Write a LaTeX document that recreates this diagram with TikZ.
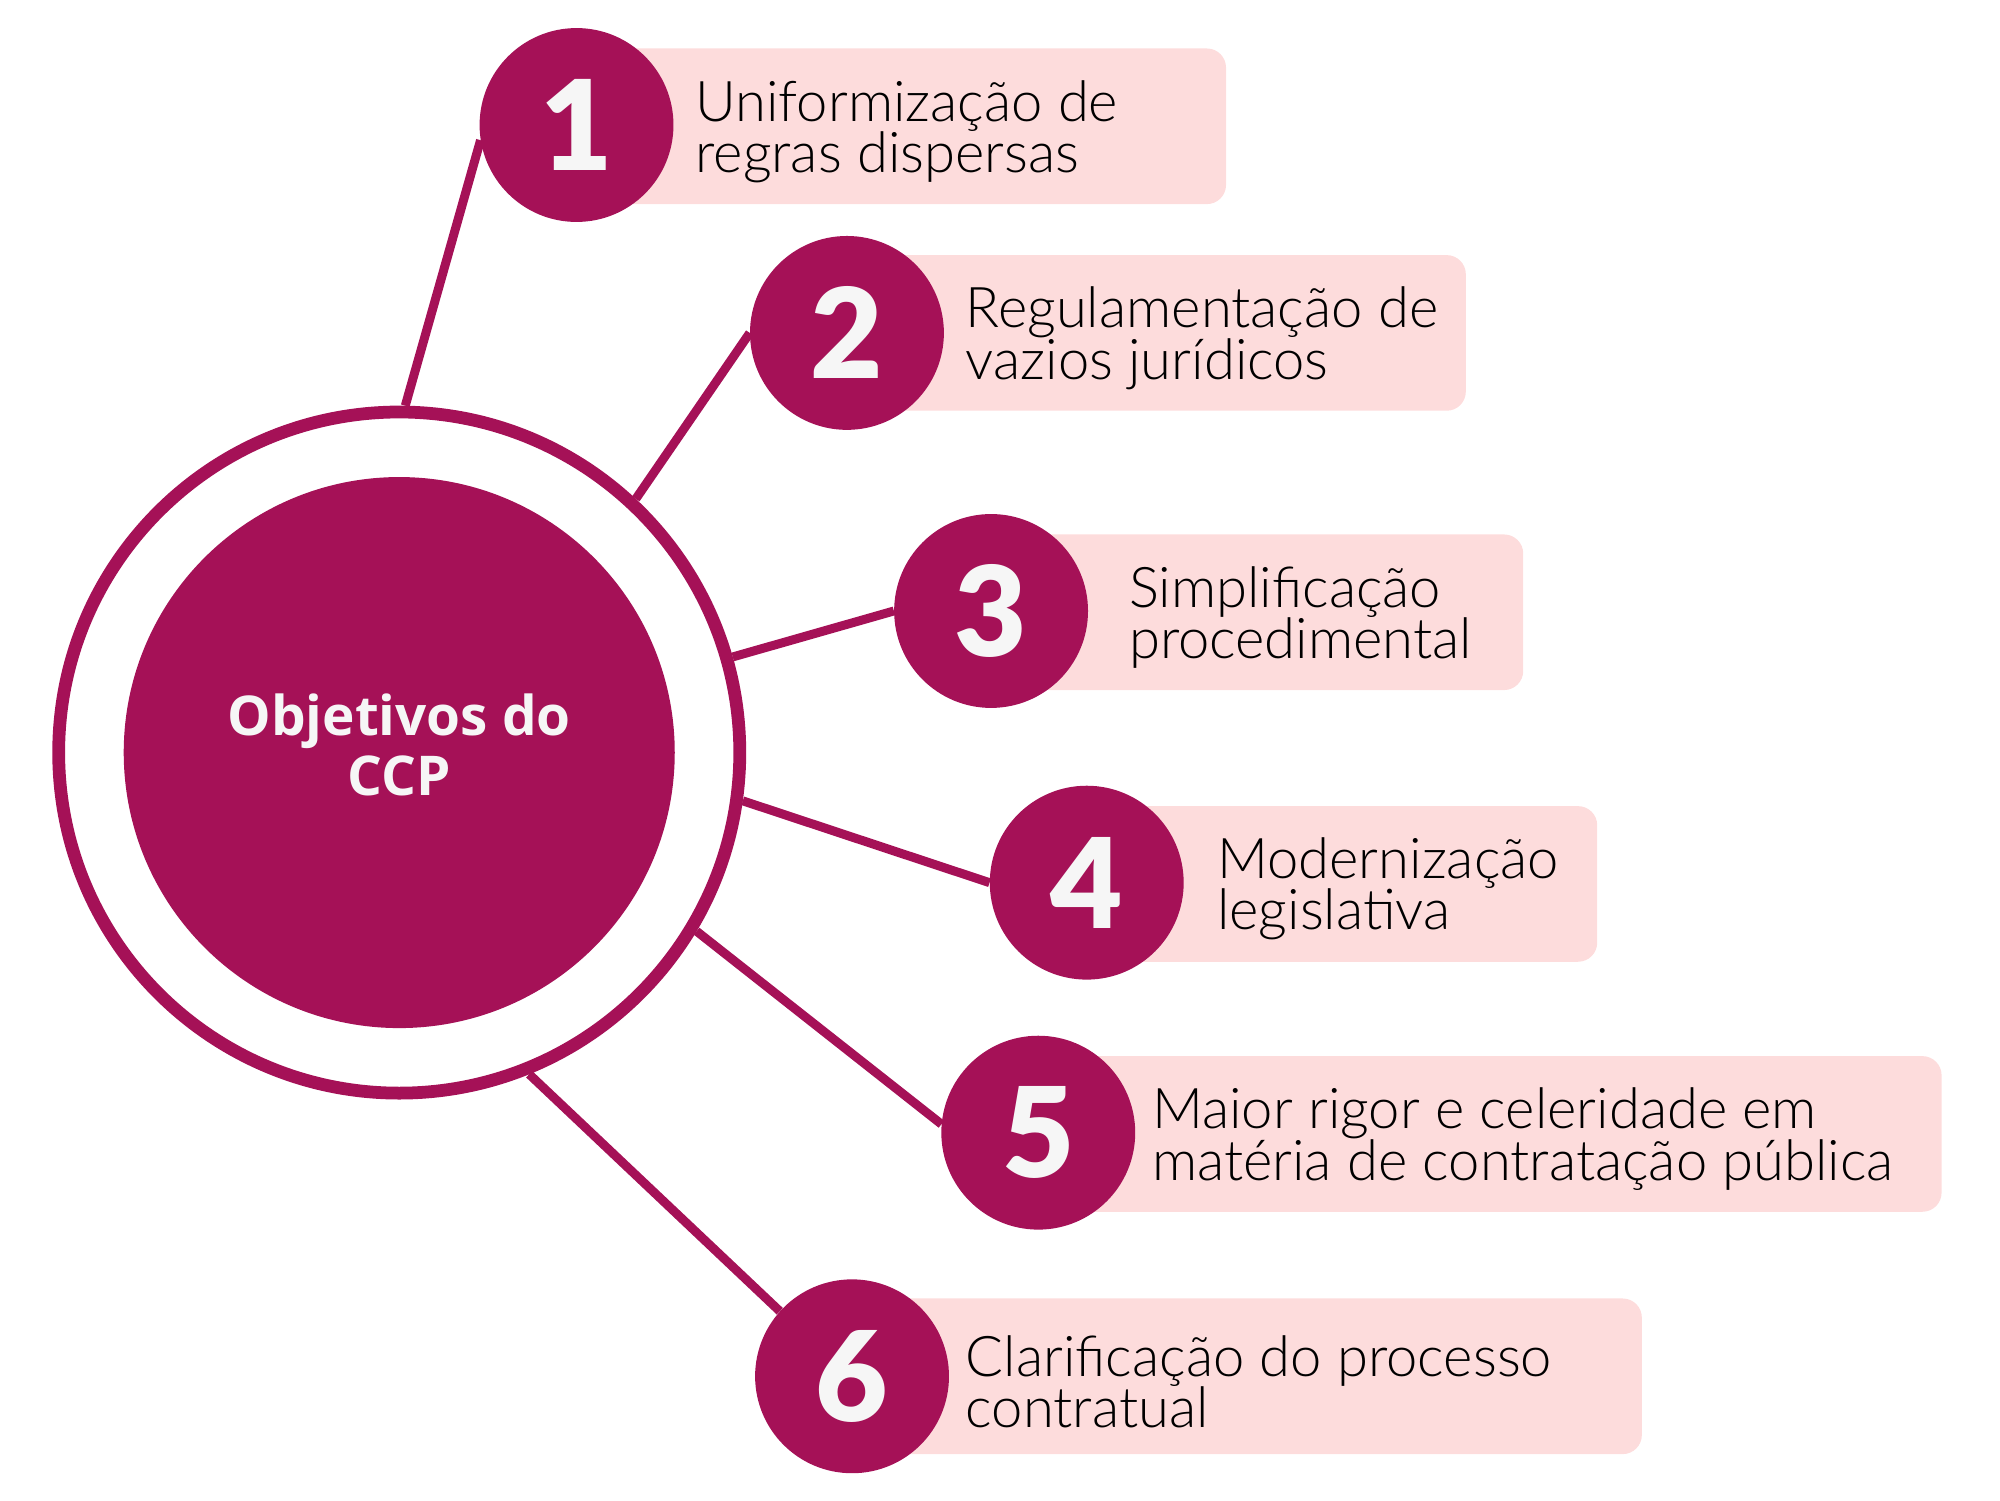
\documentclass[tikz,border=0pt]{standalone}
\usepackage{fontspec}
\setmainfont{Lato}
\newfontfamily\headfont{Open Sans}
\newfontfamily\itemfont{Lato Light}
\newfontfamily\numfont{Lato Black}
\usepackage{xcolor}
\usepackage{tikz}
\usetikzlibrary{positioning}
\definecolor{ccpmagenta}{HTML}{A51157}
\definecolor{lightpink}{HTML}{FDDCDC}
\definecolor{offwhite}{HTML}{F6F6F6}

\begin{document}
\begin{tikzpicture}[x=1pt, y=-1pt,
    itembox/.style={fill=lightpink, rounded corners=15pt, anchor=west,
                    minimum height=122pt, inner sep=0pt},
    numcircle/.style={circle, fill=ccpmagenta, minimum size=152pt, inner sep=0pt,
                      text=offwhite, font=\numfont\fontsize{98}{98}\selectfont},
    itemtext/.style={anchor=west, align=left, inner sep=0pt,
                     font=\itemfont\fontsize{44}{40}\selectfont},
    link/.style={draw=ccpmagenta, line width=7pt}]
  \useasboundingbox (0,0) rectangle (1568,1176);

  % pink label boxes
  \node[itembox, minimum width=509pt] (b1) at (452,99) {};
  \node[itembox, minimum width=485pt] (b2) at (664,261) {};
  \node[itembox, minimum width=417pt] (b3) at (777,480) {};
  \node[itembox, minimum width=400pt] (b4) at (852,693) {};
  \node[itembox, minimum width=708pt] (b5) at (814,889) {};
  \node[itembox, minimum width=619pt] (b6) at (668,1079) {};

  % numbers
  \node[numcircle] (n1) at (452,98) {1};
  \node[numcircle] (n2) at (664,261) {2};
  \node[numcircle] (n3) at (777,479) {3};
  \node[numcircle] (n4) at (852,692) {4};
  \node[numcircle] (n5) at (814,888) {5};
  \node[numcircle] (n6) at (668,1079) {6};

  % texts
  \node[itemtext] (t1) at (545,103) {Uniformização de\\regras dispersas};
  \node[itemtext] (t2) at (757,265) {Regulamentação de\\vazios jurídicos};
  \node[itemtext] (t3) at (885,484) {Simplificação\\procedimental};
  \node[itemtext] (t4) at (954,697) {Modernização\\legislativa};
  \node[itemtext] (t5) at (903,893) {Maior rigor e celeridade em\\matéria de contratação pública};
  \node[itemtext] (t6) at (757,1083) {Clarificação do processo\\contratual};

  % centre
  \node[circle, draw=ccpmagenta, line width=10pt, fill=white,
        minimum size=534pt, inner sep=0pt] (ring) at (313,590) {};
  \node[circle, fill=ccpmagenta, minimum size=432pt, inner sep=0pt] (core) at (313,590) {};
  \node[align=center, text=offwhite, inner sep=0pt,
        font=\headfont\bfseries\fontsize{43}{47}\selectfont] (title) at (313,584) {Objetivos do\\CCP};

  \draw[link] (ring.89) -- (n1.189);
  \draw[link] (ring.47) -- (n2.180);
  \draw[link] (ring.16) -- (n3.180);
  \draw[link] (ring.-8) -- (n4.180);
  \draw[link] (ring.-31) -- (n5.175);
  \draw[link] (ring.-68) -- (n6.138);
\end{tikzpicture}
\end{document}
